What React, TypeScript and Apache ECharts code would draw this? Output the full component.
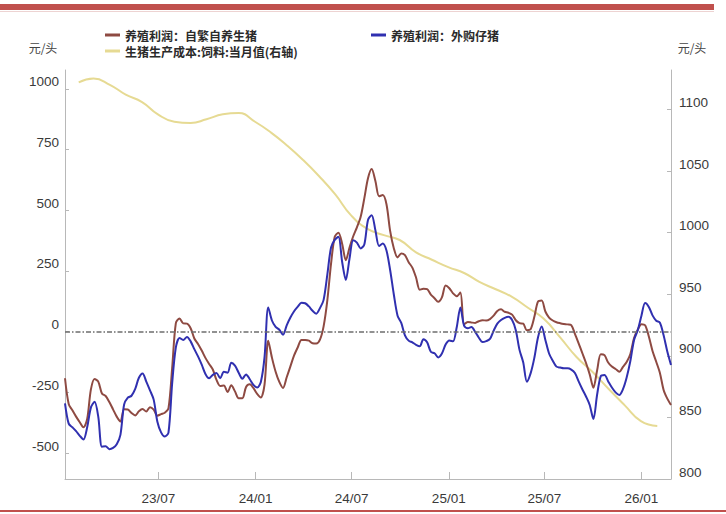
import React, { useEffect, useRef } from "react";
import * as echarts from "echarts";

// weekly observations for the two profit series, starting 2023-01-05
const WEEK_START = "2023-01-05";
const profitSelfBred = [
  -192, -298, -324, -350, -373, -394, -360, -239, -195, -206,
  -255, -265, -290, -320, -350, -370, -320, -321, -335, -345,
  -328, -319, -329, -311, -321, -346, -340, -334, -316, -150,
  35, 54, 34, 33, 14, -28, -51, -78, -108, -133,
  -156, -199, -224, -222, -249, -221, -246, -274, -274, -228,
  -217, -233, -256, -271, -218, -37, -107, -165, -207, -232,
  -188, -143, -98, -64, -34, -34, -37, -48, -49, -33,
  23, 130, 280, 391, 408, 362, 294, 347, 393, 430,
  472, 549, 632, 670, 621, 558, 563, 525, 414, 343,
  306, 322, 315, 286, 264, 223, 173, 177, 175, 153,
  138, 123, 141, 190, 179, 158, 146, 161, 30, 40,
  38, 36, 43, 47, 46, 52, 66, 85, 92, 82,
  78, 70, 47, 35, 33, 6, 10, 60, 124, 128,
  83, 58, 46, 39, 35, 32, 30, 27, -9, -48,
  -88, -129, -176, -231, -160, -93, -97, -127, -144, -154,
  -165, -145, -125, -92, -26, 8, 31, 26, -20, -80,
  -124, -170, -240, -276, -302,
];
const profitBoughtPiglet = [
  -295, -379, -394, -410, -429, -444, -394, -313, -289, -350,
  -474, -472, -484, -479, -464, -425, -300, -272, -264, -236,
  -190, -172, -206, -242, -280, -371, -415, -432, -416, -213,
  -65, -26, -34, -22, -40, -72, -102, -136, -174, -192,
  -178, -170, -192, -165, -169, -128, -140, -169, -194, -176,
  -196, -219, -230, -207, -105, 100, 46, 20, 8, -13,
  26, 58, 84, 103, 119, 117, 104, 86, 74, 97,
  132, 236, 347, 378, 391, 288, 213, 301, 377, 367,
  343, 359, 460, 480, 418, 353, 363, 334, 253, 152,
  66, 36, -15, -37, -44, -54, -60, -31, -44, -83,
  -89, -106, -90, -53, -36, -40, 17, 100, 25, 14,
  19, -1, -25, -43, -39, -30, 4, 33, 48, 57,
  61, 48, 6, -75, -126, -206, -172, -109, -24, 21,
  -34, -90, -120, -144, -148, -151, -151, -156, -170, -205,
  -237, -267, -302, -360, -260, -183, -179, -205, -230, -250,
  -261, -237, -189, -121, -34, 6, 66, 118, 102, 67,
  45, 37, -15, -82, -137,
];

// monthly feed cost (right axis)
const costMonths = [
  "2023-01-31", "2023-02-28", "2023-03-31", "2023-04-30", "2023-05-31", "2023-06-30",
  "2023-07-31", "2023-08-31", "2023-09-30", "2023-10-31", "2023-11-30", "2023-12-31",
  "2024-01-31", "2024-02-29", "2024-03-31", "2024-04-30", "2024-05-31", "2024-06-30",
  "2024-07-31", "2024-08-31", "2024-09-30", "2024-10-31", "2024-11-30", "2024-12-31",
  "2025-01-31", "2025-02-28", "2025-03-31", "2025-04-30", "2025-05-31", "2025-06-30",
  "2025-07-31", "2025-08-31", "2025-09-30", "2025-10-31", "2025-11-30", "2025-12-31",
  "2026-01-31",
];
const feedCost = [
  1122, 1125, 1120, 1112, 1106, 1096, 1090, 1089, 1092, 1096, 1097, 1090,
  1081, 1071, 1059, 1046, 1031, 1014, 1003, 998, 994, 984, 978, 972,
  967, 960, 954, 948, 939, 930, 915, 899, 887, 873, 860, 847, 843,
];

const xTickDates = ["2023-07-01", "2024-01-01", "2024-07-01", "2025-01-01", "2025-07-01", "2026-01-01"];
const leftTicks = [-500, -250, 0, 250, 500, 750, 1000];
const rightTicks = [800, 850, 900, 950, 1000, 1050, 1100];

const NAME_A = "养殖利润：自繁自养生猪";
const NAME_B = "养殖利润：外购仔猪";
const NAME_C = "生猪生产成本:饲料:当月值(右轴)";
const UNIT = "元/头";

const X_MIN = "2023-01-05";
const X_MAX = "2026-02-26";

export default function App() {
  const ref = useRef<HTMLDivElement>(null);

  useEffect(() => {
    if (!ref.current) return;
    const chart = echarts.init(ref.current, undefined, { renderer: "svg" });
    const DAY = 86400000;
    const start = Date.parse(WEEK_START);
    const toPairs = (vals: number[]) => vals.map((v, i) => [start + i * 7 * DAY, v]);
    const costData = costMonths.map((d, i) => [Date.parse(d), feedCost[i]]);
    const xTicks = xTickDates.map((d) => Date.parse(d));

    const numFont = "'Liberation Sans', Arial, sans-serif";
    const cjkFont = "'Noto Sans CJK SC', sans-serif";
    const axisColor = "#b8b8b8";
    const labelColor = "#3a3a3a";
    const plain = (v: number) => String(v);

    const legendBase = {
      icon: "rect",
      itemWidth: 15,
      itemHeight: 3,
      padding: 0,
      textStyle: { fontSize: 12, color: "#2a2a2a", fontFamily: cjkFont, fontWeight: "bold" },
    };

    chart.setOption({
      animation: false,
      backgroundColor: "#ffffff",
      grid: { left: 65, right: 55, top: 70, bottom: 35, containLabel: false, outerBoundsMode: "none" },
      legend: [
        { ...legendBase, data: [NAME_A], left: 105, top: 29 },
        { ...legendBase, data: [NAME_B], left: 371, top: 29 },
        { ...legendBase, data: [NAME_C], left: 105, top: 45 },
      ],
      graphic: [
        { type: "rect", shape: { x: 0, y: 4, width: 714, height: 6 }, style: { fill: "#C0504D" } },
        { type: "rect", shape: { x: 0, y: 11, width: 714, height: 1 }, style: { fill: "#EDD3D2" } },
        { type: "rect", shape: { x: 0, y: 510, width: 726, height: 2 }, style: { fill: "#C0504D" } },
        {
          type: "text", x: 43, y: 47,
          style: { text: UNIT, fill: "#444", font: `12px ${cjkFont}`, align: "center", verticalAlign: "middle" },
        },
        {
          type: "text", x: 692, y: 47,
          style: { text: UNIT, fill: "#444", font: `12px ${cjkFont}`, align: "center", verticalAlign: "middle" },
        },
      ],
      xAxis: {
        type: "value",
        min: Date.parse(X_MIN),
        max: Date.parse(X_MAX),
        splitLine: { show: false },
        axisLine: { show: true, onZero: false, lineStyle: { color: axisColor, width: 1 } },
        axisTick: { show: true, inside: true, length: 7, customValues: xTicks, lineStyle: { color: axisColor } },
        axisLabel: {
          customValues: xTicks,
          margin: 12,
          color: labelColor,
          fontSize: 13.5,
          fontFamily: numFont,
          formatter: (v: number) => {
            const d = new Date(v);
            const yy = String(d.getUTCFullYear()).slice(2);
            const mm = String(d.getUTCMonth() + 1).padStart(2, "0");
            return `${yy}/${mm}`;
          },
        },
      },
      yAxis: [
        {
          type: "value",
          min: -607,
          max: 1078,
          splitLine: { show: false },
          axisLine: { show: true, onZero: false, lineStyle: { color: axisColor, width: 1 } },
          axisTick: { show: true, inside: true, length: 4, customValues: leftTicks, lineStyle: { color: axisColor } },
          axisLabel: {
            customValues: leftTicks,
            formatter: plain,
            margin: 6,
            verticalAlign: "bottom",
            color: labelColor,
            fontSize: 13.5,
            fontFamily: numFont,
          },
        },
        {
          type: "value",
          position: "right",
          min: 800,
          max: 1132,
          splitLine: { show: false },
          axisLine: { show: true, onZero: false, lineStyle: { color: axisColor, width: 1 } },
          axisTick: { show: true, inside: true, length: 4, customValues: rightTicks, lineStyle: { color: axisColor } },
          axisLabel: {
            customValues: rightTicks,
            formatter: plain,
            margin: 8,
            verticalAlign: "bottom",
            color: labelColor,
            fontSize: 13.5,
            fontFamily: numFont,
          },
        },
      ],
      series: [
        {
          name: NAME_C,
          type: "line",
          yAxisIndex: 1,
          data: costData,
          showSymbol: false,
          smooth: true,
          lineStyle: { color: "#E6DA93", width: 2 },
          itemStyle: { color: "#E6DA93" },
        },
        {
          name: NAME_A,
          type: "line",
          data: toPairs(profitSelfBred),
          showSymbol: false,
          smooth: 0.3,
          lineStyle: { color: "#8E4A42", width: 2 },
          itemStyle: { color: "#8E4A42" },
          markLine: {
            silent: true,
            symbol: "none",
            label: { show: false },
            lineStyle: { color: "#6e6e6e", width: 1.6, type: [5, 2, 1.5, 2] },
            data: [{ yAxis: 0 }],
          },
        },
        {
          name: NAME_B,
          type: "line",
          data: toPairs(profitBoughtPiglet),
          showSymbol: false,
          smooth: 0.3,
          lineStyle: { color: "#3030B0", width: 2 },
          itemStyle: { color: "#3030B0" },
        },
      ],
    });
    return () => chart.dispose();
  }, []);

  return (
    <div
      ref={ref}
      style={{ position: "fixed", left: 0, top: 0, width: 726, height: 514, background: "#fff" }}
    />
  );
}
